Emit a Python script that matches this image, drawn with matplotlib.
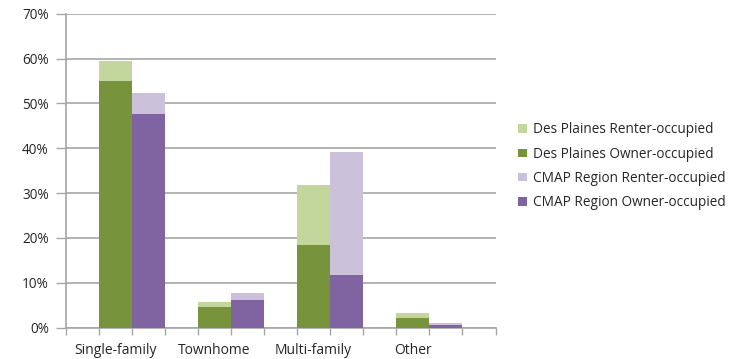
import numpy as np
import matplotlib.pyplot as plt
from matplotlib.ticker import FuncFormatter

# Housing type categories
categories = ["Single-family", "Townhome", "Multi-family", "Other"]

# Shares (%)
dp_owner = [55.0, 4.6, 18.3, 2.1]
dp_renter = [4.5, 1.0, 13.4, 1.2]
cmap_owner = [47.6, 6.2, 11.6, 0.6]
cmap_renter = [4.7, 1.6, 27.5, 0.3]

# Colours
c_dp_renter = "#C3D69B"
c_dp_owner = "#77933C"
c_cmap_renter = "#CCC1DA"
c_cmap_owner = "#8064A2"
grid_col = "#A6A6A6"

plt.rcParams['font.family'] = ['Open Sans', 'DejaVu Sans']

fig = plt.figure(figsize=(7.36, 3.59), dpi=100)
ax = fig.add_axes([65.5 / 736, 31.5 / 359, 430 / 736, 313.8 / 359])

# each group uses 3 slots: Des Plaines bar, CMAP bar, blank gap
n = len(categories)
x_dp = np.arange(n) * 3 + 1
x_cmap = x_dp + 1

ax.bar(x_dp, dp_renter, bottom=dp_owner, width=1.0, color=c_dp_renter,
       label="Des Plaines Renter-occupied", zorder=3)
ax.bar(x_dp, dp_owner, width=1.0, color=c_dp_owner,
       label="Des Plaines Owner-occupied", zorder=3)
ax.bar(x_cmap, cmap_renter, bottom=cmap_owner, width=1.0, color=c_cmap_renter,
       label="CMAP Region Renter-occupied", zorder=3)
ax.bar(x_cmap, cmap_owner, width=1.0, color=c_cmap_owner,
       label="CMAP Region Owner-occupied", zorder=3)

ax.set_xlim(-0.5, 3 * n + 0.5)
ax.set_ylim(0, 70)
ax.set_yticks(np.arange(0, 71, 10))
ax.yaxis.set_major_formatter(FuncFormatter(lambda v, p: f"{v:.0f}%"))
ax.yaxis.grid(True, color=grid_col, linewidth=1.2, zorder=0)

# tick marks at every slot boundary, labels under the Des Plaines bars
ax.set_xticks(np.arange(-0.5, 3 * n + 1, 1.0))
ax.set_xticklabels([])
ax.set_xticks(x_dp, categories, minor=True)
ax.tick_params(axis='x', which='major', length=5, color=grid_col, width=1)
ax.tick_params(axis='x', which='minor', length=0, pad=11, labelsize=10,
               labelcolor="#262626")
ax.tick_params(axis='y', length=7, color=grid_col, width=1, labelsize=9.8,
               labelcolor="#262626", pad=5)

for s in ["top", "right"]:
    ax.spines[s].set_visible(False)
for s in ["left", "bottom"]:
    ax.spines[s].set_color(grid_col)
    ax.spines[s].set_linewidth(1.2)

leg = fig.legend(loc="upper left", bbox_to_anchor=(513 / 736, 1 - 117 / 359),
                 frameon=False, fontsize=9.8, handlelength=0.6, handleheight=0.6,
                 handletextpad=0.5, labelspacing=0.68, borderaxespad=0)
for t in leg.get_texts():
    t.set_color("#262626")

fig.savefig("out.png", dpi=100)
